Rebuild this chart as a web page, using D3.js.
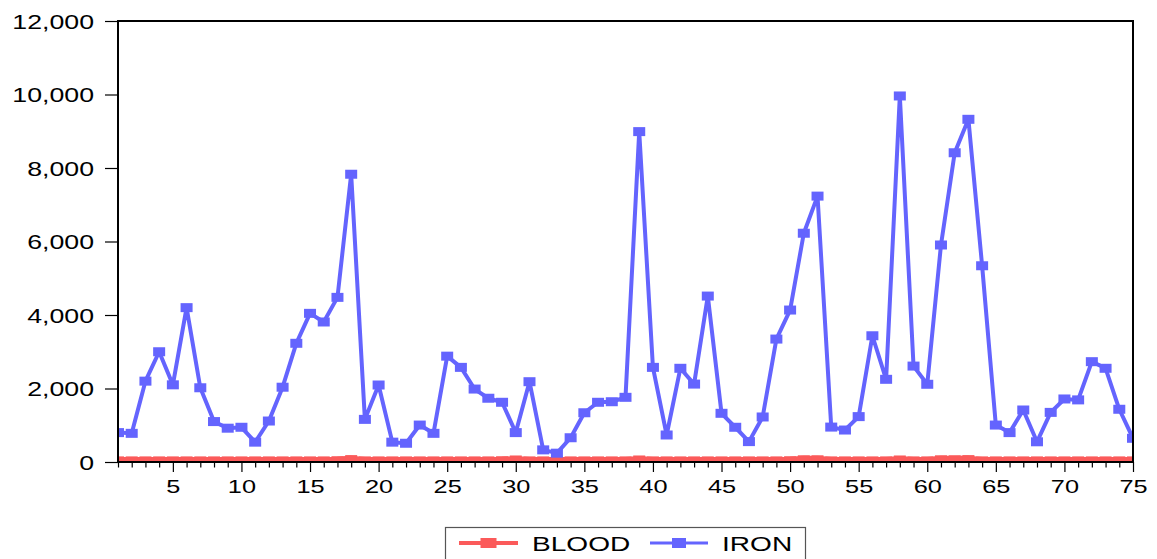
<!DOCTYPE html>
<html>
<head>
<meta charset="utf-8">
<script src="https://cdn.jsdelivr.net/npm/d3@7"></script>
<style>
  html, body { margin: 0; padding: 0; background: #fff; }
  svg { display: block; }
  text { font-family: "Liberation Sans", Arial, sans-serif; fill: #000; }
</style>
</head>
<body>
<svg id="chart" width="1157" height="559"></svg>
<script>
// Observation index 1..75
const obs = d3.range(1, 76);

// Series values
const blood = [
  30, 30, 30, 30, 30, 30, 30, 30, 30, 30,
  30, 30, 30, 30, 30, 30, 35, 65, 30, 30,
  30, 30, 30, 30, 30, 30, 30, 30, 35, 55,
  30, 30, 30, 30, 30, 30, 30, 30, 55, 30,
  30, 30, 30, 30, 30, 30, 30, 30, 30, 35,
  60, 60, 30, 30, 30, 30, 30, 55, 30, 30,
  60, 60, 65, 30, 30, 30, 30, 30, 30, 30,
  30, 30, 30, 30, 30
];
const iron = [
  800, 780, 2200, 3000, 2100, 4200, 2020, 1100, 920, 945,
  540, 1115, 2035, 3230, 4045, 3810, 4480, 7830, 1160, 2095,
  540, 510, 1005, 780, 2880, 2575, 1985, 1735, 1625, 800,
  2185, 330, 240, 660, 1340, 1625, 1640, 1760, 8990, 2575,
  735, 2550, 2120, 4515, 1325, 945, 555, 1225, 3345, 4135,
  6225, 7235, 950, 870, 1235, 3435, 2250, 9960, 2610, 2115,
  5905, 8415, 9325, 5340, 1005, 800, 1415, 550, 1350, 1715,
  1690, 2730, 2550, 1435, 645
];

// Axis ticks and legend labels
const yTicks = [0, 2000, 4000, 6000, 8000, 10000, 12000];
const xLabelTicks = [5, 10, 15, 20, 25, 30, 35, 40, 45, 50, 55, 60, 65, 70, 75];
const seriesNames = ["BLOOD", "IRON"];
const seriesColors = ["#fb5a5a", "#6464fe"];

const svg = d3.select("#chart");
const plot = { left: 118, right: 1133, top: 21, bottom: 462 };
const textScaleX = 1.37;   // wide lettering

const x = d3.scaleLinear().domain([1, 75]).range([plot.left, plot.right]);
const y = d3.scaleLinear().domain([0, 12000]).range([plot.bottom, plot.top]);
const fmt = d3.format(",");

svg.append("defs").append("clipPath").attr("id", "plotclip")
  .append("rect")
  .attr("x", plot.left).attr("y", plot.top)
  .attr("width", plot.right - plot.left).attr("height", plot.bottom - plot.top);

// Y axis ticks and labels
const yAxis = svg.append("g").attr("transform", `translate(${plot.left},0)`)
  .call(d3.axisLeft(y).tickValues(yTicks).tickSize(13).tickFormat(""));
yAxis.select(".domain").remove();
yAxis.selectAll(".tick line").attr("stroke", "#000").attr("stroke-width", 1.2);
yAxis.selectAll(".tick").append("text")
  .attr("text-anchor", "end")
  .attr("font-size", 19.5)
  .attr("transform", `translate(-24,7) scale(${textScaleX},1)`)
  .text(d => fmt(d));

// X axis: minor tick at each observation, longer tick every 5
const xAxis = svg.append("g").attr("transform", `translate(0,${plot.bottom})`)
  .call(d3.axisBottom(x).tickValues(obs).tickSizeOuter(0).tickFormat(""));
xAxis.select(".domain").remove();
xAxis.selectAll(".tick line")
  .attr("stroke", "#000").attr("stroke-width", 1.2)
  .attr("y2", d => d % 5 === 0 ? 10 : 5.5);
xAxis.selectAll(".tick").filter(d => xLabelTicks.includes(d))
  .append("text")
  .attr("text-anchor", "middle")
  .attr("font-size", 18.5)
  .attr("transform", `translate(0,31) scale(${textScaleX},1)`)
  .text(d => d);

// Series
const line = d3.line().x((d, i) => x(obs[i])).y(d => y(d));
const series = [blood, iron];
const lineWidths = [8, 4];
const layer = svg.append("g").attr("clip-path", "url(#plotclip)");
series.forEach((vals, si) => {
  const g = layer.append("g");
  g.append("path")
    .datum(vals)
    .attr("d", line)
    .attr("fill", "none")
    .attr("stroke", seriesColors[si])
    .attr("stroke-width", lineWidths[si])
    .attr("stroke-linejoin", "round");
  g.selectAll("rect")
    .data(vals)
    .join("rect")
    .attr("x", (d, i) => x(obs[i]) - 6)
    .attr("y", d => y(d) - 4.5)
    .attr("width", 12)
    .attr("height", 9)
    .attr("fill", seriesColors[si]);
});

// Plot frame
svg.append("rect")
  .attr("x", plot.left).attr("y", plot.top)
  .attr("width", plot.right - plot.left).attr("height", plot.bottom - plot.top)
  .attr("fill", "none").attr("stroke", "#000").attr("stroke-width", 2);

// Legend
const legend = svg.append("g");
legend.append("rect")
  .attr("x", 445.5).attr("y", 527.5).attr("width", 360).attr("height", 40)
  .attr("fill", "#fff").attr("stroke", "#555").attr("stroke-width", 1.2);
const legendItems = [
  { line: [459, 518], text: 532 },
  { line: [650, 708], text: 722 }
];
legendItems.forEach((it, i) => {
  const cy = 543;
  legend.append("line")
    .attr("x1", it.line[0]).attr("x2", it.line[1])
    .attr("y1", cy).attr("y2", cy)
    .attr("stroke", seriesColors[i]).attr("stroke-width", i === 0 ? 4 : 3);
  const mx = (it.line[0] + it.line[1]) / 2;
  legend.append("rect")
    .attr("x", mx - (i === 0 ? 8 : 7)).attr("y", cy - 5)
    .attr("width", i === 0 ? 16 : 14).attr("height", 10)
    .attr("fill", seriesColors[i]);
  legend.append("text")
    .attr("font-size", 20.5)
    .attr("transform", `translate(${it.text},550.5) scale(${textScaleX},1)`)
    .text(seriesNames[i]);
});
</script>
</body>
</html>
